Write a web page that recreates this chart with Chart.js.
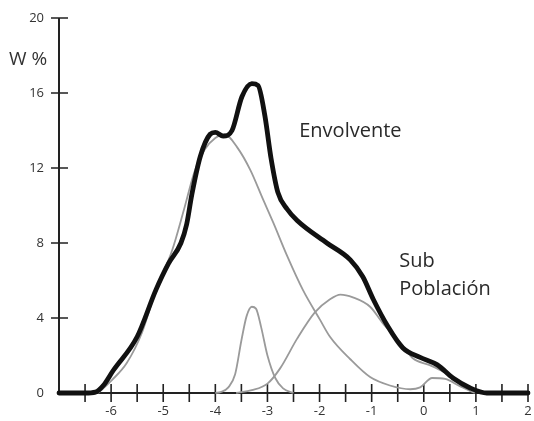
<!DOCTYPE html>
<html>
<head>
<meta charset="utf-8">
<script src="https://cdn.jsdelivr.net/npm/chart.js@4.4.0/dist/chart.umd.min.js"></script>
<style>
  html, body { margin: 0; padding: 0; background: #fff; }
  #wrap { width: 534px; height: 421px; }
</style>
</head>
<body>
<div id="wrap"><canvas id="myChart"></canvas></div>
<script>
// envolvente (thick black)
const envX = [-7, -6.5, -6.3, -6.15, -5.96, -5.5, -5.14, -4.9, -4.66, -4.55, -4.45, -4.29, -4.1, -4.0, -3.85, -3.68, -3.49, -3.3, -3.18, -3.05, -2.93, -2.8, -2.62, -2.43, -1.86, -1.41, -1.17, -0.97, -0.7, -0.4, -0.07, 0.26, 0.56, 0.89, 1.21, 2];
const envY = [0, 0, 0.05, 0.4, 1.2, 3.0, 5.5, 6.9, 8.0, 9.0, 10.6, 12.6, 13.8, 13.9, 13.7, 14.0, 15.8, 16.5, 16.4, 14.8, 12.5, 10.7, 9.8, 9.2, 8.0, 7.1, 6.2, 5.0, 3.6, 2.4, 1.9, 1.5, 0.8, 0.27, 0, 0];

// main population (gray)
const mainX = [-6.25, -5.98, -5.7, -5.41, -5.14, -4.83, -4.6, -4.4, -4.2, -4.0, -3.82, -3.58, -3.33, -3.08, -2.89, -2.62, -2.32, -1.99, -1.8, -1.41, -1.03, -0.65, -0.26, -0.07, 0.16, 0.41, 0.7, 0.98];
const mainY = [0, 0.7, 1.6, 3.2, 5.5, 7.6, 9.8, 11.8, 13.0, 13.6, 13.8, 13.1, 11.9, 10.3, 9.1, 7.3, 5.5, 3.9, 3.0, 1.8, 0.85, 0.4, 0.2, 0.3, 0.8, 0.75, 0.35, 0];

// narrow peak (gray)
const peakX = [-4.0, -3.9, -3.75, -3.62, -3.5, -3.4, -3.3, -3.22, -3.12, -3.0, -2.85, -2.7, -2.5];
const peakY = [0, 0.05, 0.3, 1.0, 2.8, 4.1, 4.6, 4.5, 3.5, 2.0, 0.8, 0.25, 0];

// sub poblacion (gray)
const subX = [-3.6, -3.3, -3.0, -2.76, -2.43, -2.09, -1.8, -1.6, -1.36, -1.03, -0.78, -0.45, -0.21, 0.1, 0.4, 0.7, 1.0, 1.3];
const subY = [0, 0.15, 0.5, 1.3, 2.9, 4.3, 5.0, 5.25, 5.1, 4.6, 3.7, 2.7, 1.85, 1.5, 1.1, 0.5, 0.15, 0];

const xLabels = [-6, -5, -4, -3, -2, -1, 0, 1, 2];
const yLabels = [0, 4, 8, 12, 16, 20];

function pts(xs, ys) {
    return xs.map((x, i) => ({ x: x, y: ys[i] }));
}

const FONT = "'Open Sans', 'DejaVu Sans', sans-serif";

const axisPlugin = {
    id: 'axisPlugin',
    beforeDatasetsDraw(chart) {
        const ctx = chart.ctx;
        const xs = chart.scales.x, ys = chart.scales.y;
        const x0 = xs.getPixelForValue(-7), x1 = xs.getPixelForValue(2);
        const y0 = ys.getPixelForValue(0), y1 = ys.getPixelForValue(20);
        ctx.save();
        ctx.strokeStyle = '#222';
        ctx.lineWidth = 2;
        ctx.beginPath();
        ctx.moveTo(x0, y1); ctx.lineTo(x0, y0); ctx.lineTo(x1 + 2, y0);
        ctx.stroke();
        ctx.lineWidth = 1.6;
        ctx.beginPath();
        for (const v of yLabels) {
            const p = ys.getPixelForValue(v);
            if (v === 0) continue;
            ctx.moveTo(x0 - 8, p); ctx.lineTo(x0 + 9, p);
        }
        for (let v = -6.5; v <= 2; v += 0.5) {
            const p = xs.getPixelForValue(v);
            ctx.moveTo(p, y0 - 9); ctx.lineTo(p, y0 + 9);
        }
        ctx.stroke();
        ctx.restore();
    },
    afterDraw(chart) {
        const ctx = chart.ctx;
        const xs = chart.scales.x, ys = chart.scales.y;
        ctx.save();
        ctx.fillStyle = '#2a2a2a';
        ctx.textBaseline = 'alphabetic';
        ctx.font = '20px ' + FONT;
        ctx.fillText('Envolvente', xs.getPixelForValue(-2.39), ys.getPixelForValue(13.65));
        ctx.fillText('Sub', xs.getPixelForValue(-0.47), ys.getPixelForValue(6.72));
        ctx.fillText('Población', xs.getPixelForValue(-0.47), ys.getPixelForValue(5.23));
        ctx.fillStyle = '#333';
        ctx.font = '19px ' + FONT;
        ctx.fillText('W %', 9, ys.getPixelForValue(17.5));
        ctx.restore();
    }
};

new Chart(document.getElementById('myChart').getContext('2d'), {
    type: 'line',
    data: {
        datasets: [{
            label: 'Envolvente',
            data: pts(envX, envY),
            borderColor: '#111',
            borderWidth: 4.8,
            borderCapStyle: 'round',
            borderJoinStyle: 'round',
            cubicInterpolationMode: 'monotone',
            pointRadius: 0,
            clip: false,
            order: 0
        }, {
            label: 'Poblacion',
            data: pts(mainX, mainY),
            borderColor: '#9a9a9a',
            borderWidth: 1.8,
            cubicInterpolationMode: 'monotone',
            pointRadius: 0,
            clip: false,
            order: 1
        }, {
            label: 'Pico',
            data: pts(peakX, peakY),
            borderColor: '#9a9a9a',
            borderWidth: 1.8,
            cubicInterpolationMode: 'monotone',
            pointRadius: 0,
            clip: false,
            order: 1
        }, {
            label: 'Sub Población',
            data: pts(subX, subY),
            borderColor: '#9a9a9a',
            borderWidth: 1.8,
            cubicInterpolationMode: 'monotone',
            pointRadius: 0,
            clip: false,
            order: 1
        }]
    },
    options: {
        responsive: true,
        maintainAspectRatio: false,
        animation: false,
        layout: { padding: { top: 18, right: 6, left: 0, bottom: 0 } },
        plugins: { legend: { display: false }, tooltip: { enabled: false } },
        scales: {
            x: {
                type: 'linear',
                min: -7,
                max: 2,
                grid: { display: false },
                border: { display: false },
                afterFit(s) { s.height = 28; s.paddingLeft = 0; s.paddingRight = 0; },
                ticks: {
                    stepSize: 1,
                    autoSkip: false,
                    maxRotation: 0,
                    padding: 2,
                    color: '#333',
                    font: { family: FONT, size: 13 },
                    callback: v => xLabels.includes(v) ? String(v) : ''
                }
            },
            y: {
                min: 0,
                max: 20,
                grid: { display: false },
                border: { display: false },
                afterFit(s) { s.width = 59; s.paddingTop = 0; s.paddingBottom = 0; },
                ticks: {
                    stepSize: 4,
                    padding: 7,
                    color: '#333',
                    font: { family: FONT, size: 13 },
                    callback: v => yLabels.includes(v) ? String(v) : ''
                }
            }
        }
    },
    plugins: [axisPlugin]
});
</script>
</body>
</html>
